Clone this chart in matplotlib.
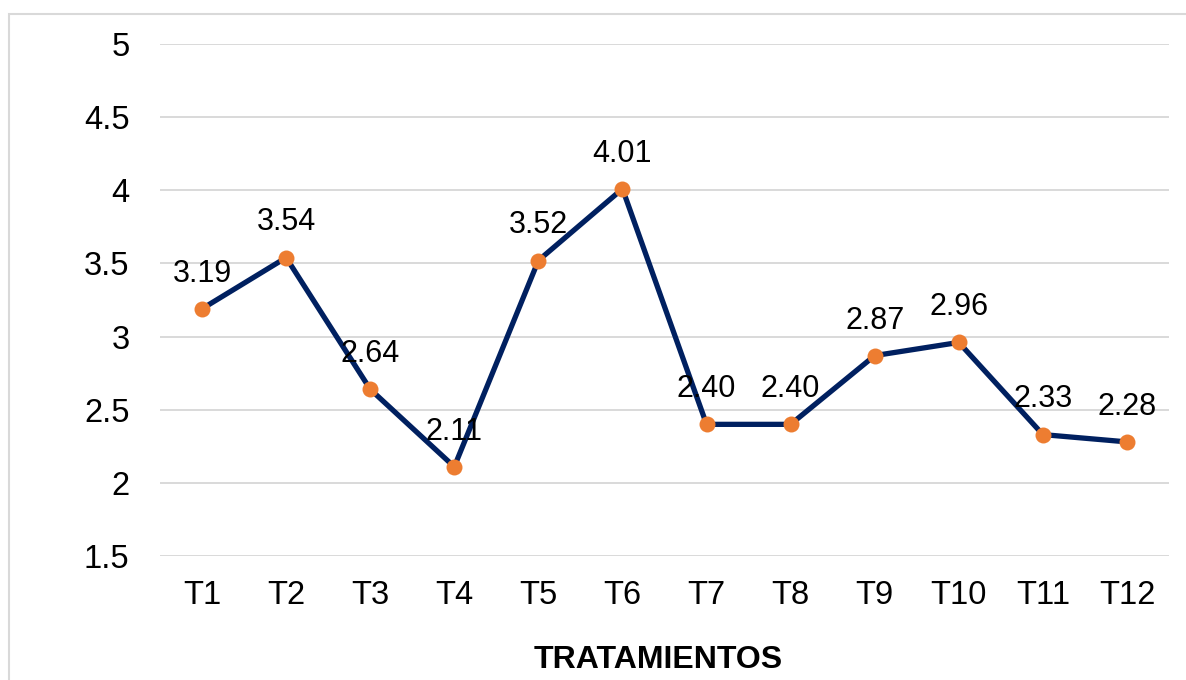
import matplotlib
matplotlib.use("Agg")
import matplotlib.pyplot as plt
from matplotlib.patches import Rectangle

# --- datos ------------------------------------------------------------------
tratamientos = ["T1", "T2", "T3", "T4", "T5", "T6",
                "T7", "T8", "T9", "T10", "T11", "T12"]
valores = [3.19, 3.54, 2.64, 2.11, 3.52, 4.01,
           2.40, 2.40, 2.87, 2.96, 2.33, 2.28]
yticks = [1.5, 2, 2.5, 3, 3.5, 4, 4.5, 5]
ytick_labels = ["1.5", "2", "2.5", "3", "3.5", "4", "4.5", "5"]

plt.rcParams["font.family"] = ["Liberation Sans", "DejaVu Sans"]

W, H = 1186, 680
fig = plt.figure(figsize=(W / 100, H / 100), dpi=100)

# marco gris del gráfico
fig.patches.append(Rectangle((8.5 / W, -0.05), 1.2, 1 - 13.5 / H + 0.05,
                             transform=fig.transFigure, fill=False,
                             edgecolor="#D9D9D9", linewidth=1.5))

ax = fig.add_axes([160 / W, 1 - 556 / H, (1169 - 160) / W, (556 - 44) / H])
x = list(range(len(tratamientos)))
ax.plot(x, valores, color="#002060", lw=3.8, zorder=3,
        solid_joinstyle="round", solid_capstyle="round")
ax.plot(x, valores, "o", color="#ED7D31", ms=11.5, mec="none", zorder=4)

for xi, v in zip(x, valores):
    ax.annotate(f"{v:.2f}", (xi, v), xytext=(0, 19.5), textcoords="offset points",
                ha="center", va="baseline", fontsize=22, color="black", zorder=5)

ax.set_xlim(-0.5, len(tratamientos) - 0.5)
ax.set_ylim(1.5, 5)
ax.set_yticks(yticks, ytick_labels)
ax.set_xticks(x, tratamientos)
ax.grid(axis="y", color="#D9D9D9", lw=1.4)
ax.set_axisbelow(True)
for s in ax.spines.values():
    s.set_visible(False)
ax.tick_params(axis="both", length=0, labelsize=23.5)
ax.tick_params(axis="y", pad=22)
ax.tick_params(axis="x", pad=17)

fig.text(658 / W, 1 - 668 / H, "TRATAMIENTOS", ha="center", va="baseline",
         fontsize=23, fontweight="bold")

fig.savefig("out.png", dpi=100)
